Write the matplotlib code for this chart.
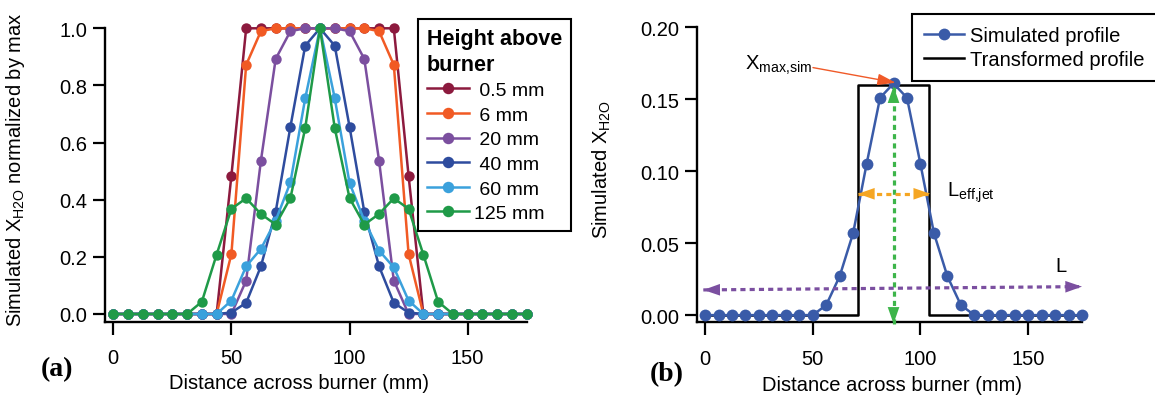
import numpy as np
import matplotlib
matplotlib.use("Agg")
from matplotlib import pyplot as plt

plt.rcParams['font.family'] = ['Liberation Sans', 'DejaVu Sans']

# distance across burner (mm), 6.25 mm steps
dist = np.arange(29) * 6.25

# (a) normalized profiles at each height above burner
hab_labels = [' 0.5 mm', ' 6 mm', ' 20 mm', ' 40 mm', ' 60 mm', '125 mm']
hab_colors = ['#8C1A3E', '#F15A24', '#7B4F9F', '#2E4C9E', '#3BA1DC', '#1F9A48']
y_05 = [0, 0, 0, 0, 0, 0, 0, 0, 0.484, 1, 1, 1, 1, 1, 1, 1, 1, 1, 1, 1, 0.484, 0, 0, 0, 0, 0, 0, 0, 0]
y_6 = [0, 0, 0, 0, 0, 0, 0, 0, 0.21, 0.872, 0.99, 1, 1, 1, 1, 1, 1, 1, 0.99, 0.872, 0.21, 0, 0, 0, 0, 0, 0, 0, 0]
y_20 = [0, 0, 0, 0, 0, 0, 0, 0, 0, 0.117, 0.537, 0.893, 0.99, 1, 1, 1, 0.99, 0.893, 0.537, 0.117, 0, 0, 0, 0, 0, 0, 0, 0, 0]
y_40 = [0, 0, 0, 0, 0, 0, 0, 0, 0.005, 0.039, 0.167, 0.358, 0.656, 0.939, 1, 0.939, 0.656, 0.358, 0.167, 0.039, 0.005, 0, 0, 0, 0, 0, 0, 0, 0]
y_60 = [0, 0, 0, 0, 0, 0, 0, 0, 0.047, 0.167, 0.228, 0.327, 0.461, 0.755, 1, 0.755, 0.459, 0.327, 0.222, 0.163, 0.047, 0, 0, 0, 0, 0, 0, 0, 0]
y_125 = [0, 0, 0, 0, 0, 0, 0.043, 0.208, 0.368, 0.405, 0.35, 0.313, 0.406, 0.651, 1, 0.651, 0.406, 0.313, 0.35, 0.405, 0.368, 0.208, 0.043, 0, 0, 0, 0, 0, 0]
hab_series = [y_05, y_6, y_20, y_40, y_60, y_125]

# (b) simulated profile and its top-hat transform
sim = [0, 0, 0, 0, 0, 0, 0, 0, 0, 0.007, 0.027, 0.057, 0.105, 0.151, 0.161, 0.151, 0.105, 0.057, 0.027, 0.007, 0, 0, 0, 0, 0, 0, 0, 0, 0]
trans_x = [0, 70.8, 70.8, 104.2, 104.2, 175]
trans_y = [0, 0, 0.16, 0.16, 0, 0]

FS = 14.5

fig = plt.figure(figsize=(11.55, 4.02), dpi=100)


def style_axes(ax):
    for s in ['top', 'right']:
        ax.spines[s].set_visible(False)
    for s in ['left', 'bottom']:
        ax.spines[s].set_linewidth(1.7)
    ax.tick_params(direction='out', length=9, width=1.6, labelsize=FS)
    ax.tick_params(axis='x', pad=10)
    ax.tick_params(axis='y', pad=4)


# ---- panel (a)
ax1 = fig.add_axes([105 / 1155, 1 - 322.7 / 402, 421.7 / 1155, 293.4 / 402])
for ys, lab, c in zip(hab_series, hab_labels, hab_colors):
    ax1.plot(dist, ys, '-o', color=c, lw=1.8, ms=7.5, mew=0, label=lab, clip_on=False)
ax1.set_xlim(-3.5, 175)
ax1.set_ylim(-0.027, 1.0)
ax1.set_xticks([0, 50, 100, 150])
ax1.set_yticks(np.arange(0, 1.01, 0.2))
ax1.set_yticklabels(['%.1f' % v for v in np.arange(0, 1.01, 0.2)])
style_axes(ax1)
ax1.set_xlabel('Distance across burner (mm)', fontsize=FS)
ax1.xaxis.set_label_coords(0.46, -0.175)
ax1.set_ylabel('Simulated X$_{\\mathregular{H2O}}$ normalized by max', fontsize=FS)
ax1.yaxis.set_label_coords(-0.185, 0.52)
leg1 = ax1.legend(loc='upper left', bbox_to_anchor=(418 / 1155, 1 - 20 / 402),
                  bbox_transform=fig.transFigure, borderaxespad=0,
                  title='Height above\nburner',
                  fontsize=14, title_fontproperties={'weight': 'bold', 'size': 15.5},
                  frameon=True, fancybox=False, edgecolor='black', framealpha=1,
                  handlelength=2.15, handletextpad=0.3, labelspacing=0.36,
                  borderpad=0.45, alignment='left', markerscale=1.1)
leg1.get_title().set_linespacing(1.3)
leg1.get_frame().set_linewidth(1.5)

# ---- panel (b)
ax2 = fig.add_axes([697.3 / 1155, 1 - 323.3 / 402, 384.7 / 1155, 295 / 402])
ax2.plot(trans_x, trans_y, color='black', lw=1.8, label='Transformed profile', zorder=2)
ax2.plot(dist, sim, '-o', color='#3A5BA8', lw=1.8, ms=8.5, mew=0, label='Simulated profile',
         clip_on=False, zorder=3)
ax2.set_xlim(-3.6, 175)
ax2.set_ylim(-0.005, 0.20)
ax2.set_xticks([0, 50, 100, 150])
ax2.set_yticks(np.arange(0, 0.201, 0.05))
ax2.set_yticklabels(['%.2f' % v for v in np.arange(0, 0.201, 0.05)])
style_axes(ax2)
ax2.set_xlabel('Distance across burner (mm)', fontsize=FS)
ax2.xaxis.set_label_coords(0.506, -0.18)
ax2.set_ylabel('Simulated X$_{\\mathregular{H2O}}$', fontsize=FS)
ax2.yaxis.set_label_coords(-0.219, 0.52)
h, l = ax2.get_legend_handles_labels()
leg2 = ax2.legend(h[::-1], l[::-1], loc='upper left', bbox_to_anchor=(911.7 / 1155, 1 - 15 / 402),
                  bbox_transform=fig.transFigure, borderaxespad=0, fontsize=FS,
                  frameon=True, fancybox=False, edgecolor='black', framealpha=1,
                  handlelength=2.0, handletextpad=0.3, labelspacing=0.25, borderpad=0.6)
leg2.get_frame().set_linewidth(1.5)


def dotted_arrow(ax, p0, p1, color):
    ax.plot([p0[0], p1[0]], [p0[1], p1[1]], color=color, lw=2.3,
            linestyle=(0, (1.6, 1.3)), dash_capstyle='butt', zorder=4, clip_on=False)
    for a, b in [(p0, p1), (p1, p0)]:
        ax.annotate('', xy=b, xytext=a, zorder=5, annotation_clip=False,
                    arrowprops=dict(arrowstyle='-|>,head_length=1.2,head_width=0.42',
                                    color=color, lw=0, shrinkA=0, shrinkB=0,
                                    mutation_scale=10))


dotted_arrow(ax2, (87.5, -0.006), (87.5, 0.159), '#3DB54A')
dotted_arrow(ax2, (71, 0.0843), (104.5, 0.0843), '#F5A623')
dotted_arrow(ax2, (-0.8, 0.0175), (175, 0.0198), '#7B4FA0')

ax2.annotate('', xy=(88.5, 0.1615), xytext=(50.1, 0.172),
             arrowprops=dict(arrowstyle='-|>,head_length=1.1,head_width=0.35',
                             color='#F05A28', lw=1, shrinkA=0, shrinkB=0, mutation_scale=10),
             zorder=6)
ax2.text(18.6, 0.171, 'X$_{\\mathregular{max{,}sim}}$', fontsize=FS, ha='left', va='baseline')
ax2.text(112.2, 0.0827, 'L$_{\\mathregular{eff{,}jet}}$', fontsize=FS, ha='left', va='baseline')
ax2.text(162.5, 0.0308, 'L', fontsize=FS, ha='left', va='baseline')

# panel labels
fig.text(57 / 1155, 1 - 370 / 402, '(a)', family='Liberation Serif', weight='bold',
         fontsize=20, ha='center', va='center')
fig.text(667 / 1155, 1 - 375 / 402, '(b)', family='Liberation Serif', weight='bold',
         fontsize=20, ha='center', va='center')

fig.savefig('out.png', dpi=100)
